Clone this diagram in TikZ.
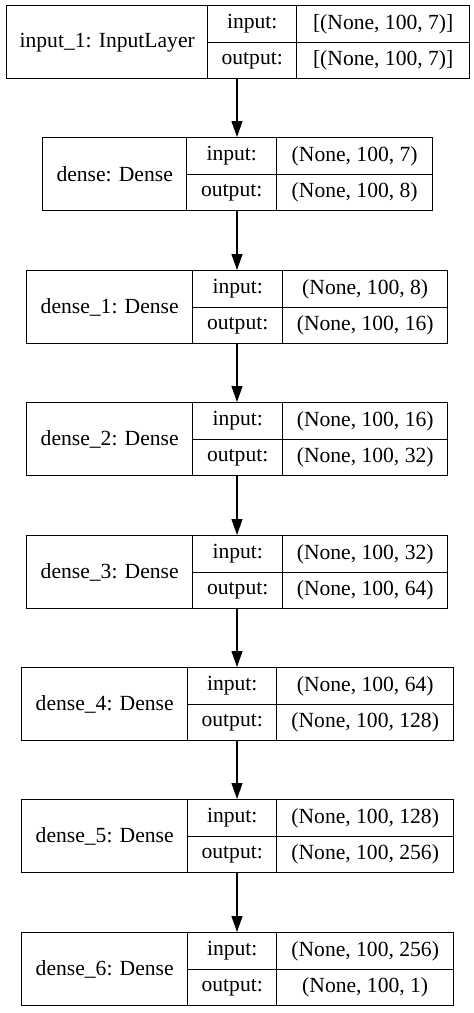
\documentclass[tikz,border=0pt]{standalone}
\usepackage{fontspec}
\setmainfont{Liberation Serif}
\usetikzlibrary{arrows.meta}
\tikzset{
  cell/.style={draw, line width=0.7pt, inner sep=0pt, anchor=north west,
    font=\fontsize{10.8}{13}\selectfont},
  flow/.style={line width=0.6pt, -{Triangle[length=8pt, width=5.5pt]}}
}
\begin{document}
\begin{tikzpicture}[x=0.5pt, y=-0.5pt]
\useasboundingbox (0,0) rectangle (474,1013);
\coordinate (axis) at (237,0);
\foreach \nm/\lbl/\ytop/\lft/\da/\db/\rgt/\inp/\outp in {
  in1/{input\_1: InputLayer}/5/6/207/296/469/{[(None, 100, 7)]}/{[(None, 100, 7)]},
  d0/{dense: Dense}/137/42/186/276/432/{(None, 100, 7)}/{(None, 100, 8)},
  d1/{dense\_1: Dense}/270/26/192/282/447/{(None, 100, 8)}/{(None, 100, 16)},
  d2/{dense\_2: Dense}/402/26/192/282/447/{(None, 100, 16)}/{(None, 100, 32)},
  d3/{dense\_3: Dense}/535/26/192/282/447/{(None, 100, 32)}/{(None, 100, 64)},
  d4/{dense\_4: Dense}/667/21/187/276/453/{(None, 100, 64)}/{(None, 100, 128)},
  d5/{dense\_5: Dense}/799/21/187/276/453/{(None, 100, 128)}/{(None, 100, 256)},
  d6/{dense\_6: Dense}/932/21/187/276/453/{(None, 100, 256)}/{(None, 100, 1)}}
{
  \node[cell, minimum width={(\da-\lft)*0.5pt}, minimum height=36.5pt] (\nm) at (\lft,\ytop) {\lbl};
  \node[cell, minimum width={(\db-\da)*0.5pt}, minimum height=18.25pt] (\nm-i) at (\da,\ytop) {input:};
  \node[cell, minimum width={(\db-\da)*0.5pt}, minimum height=18.25pt] (\nm-o) at (\da,{\ytop+36.5}) {output:};
  \node[cell, minimum width={(\rgt-\db)*0.5pt}, minimum height=18.25pt] (\nm-iv) at (\db,\ytop) {\inp};
  \node[cell, minimum width={(\rgt-\db)*0.5pt}, minimum height=18.25pt] (\nm-ov) at (\db,{\ytop+36.5}) {\outp};
}
% connectors
\foreach \a/\b in {in1/d0, d0/d1, d1/d2, d2/d3, d3/d4, d4/d5, d5/d6}
  \draw[flow] (\a.south -| axis) -- (\b.north -| axis);
\end{tikzpicture}
\end{document}
